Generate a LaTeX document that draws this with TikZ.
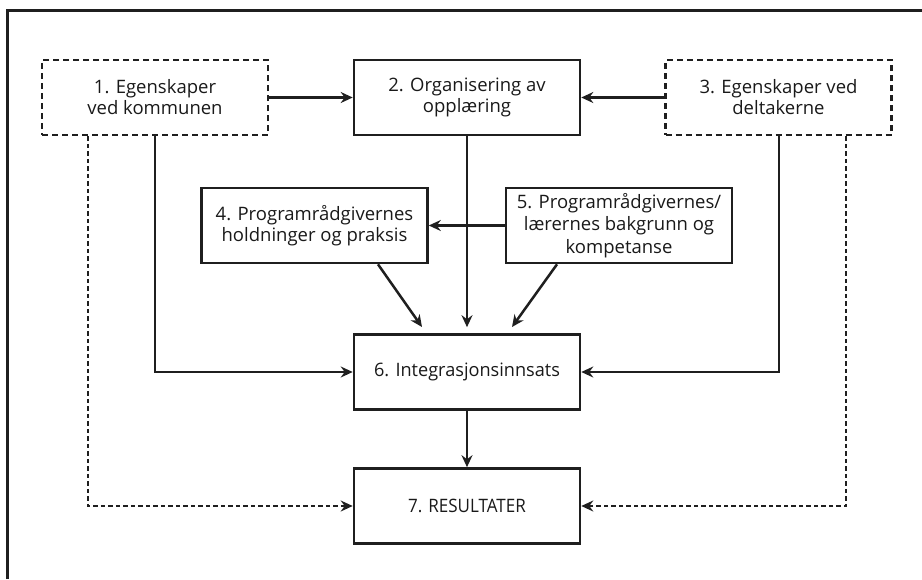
\documentclass[tikz,border=0pt]{standalone}
\usepackage{fontspec}
\setmainfont{Open Sans}
\usetikzlibrary{arrows.meta}
\newcommand{\condtext}[2]{\scalebox{#1}[1]{#2}}
\begin{document}
\begin{tikzpicture}[x=1pt,y=-1pt,
  box/.style={draw=black!88, line width=2.6pt, minimum width=226pt, minimum height=75pt,
    align=center, font=\fontsize{18.5}{21}\selectfont, inner sep=1pt, text=black!90},
  dbox/.style={box, dash pattern=on 6pt off 4pt},
  arr/.style={line width=2.5pt, draw=black!88, -{Stealth[length=12pt,width=11pt,inset=4pt]}},
  darr/.style={arr, dash pattern=on 4.5pt off 3pt}
]
\useasboundingbox (0,0) rectangle (922,579);
\draw[line width=3pt, draw=black!88] (7,579) -- (7,10) -- (922,10);

\node[dbox] (b1) at (155,97.5) {1. Egenskaper\\ved kommunen};
\node[box]  (b2) at (467,97.5) {2. Organisering av\\opplæring};
\node[dbox] (b3) at (778.5,97.5) {3. Egenskaper ved\\deltakerne};
\node[box]  (b4) at (314.5,225.5) {4. Programrådgivernes\\holdninger og praksis};
\node[box, font=\fontsize{18.5}{22.5}\selectfont]  (b5) at (619,225.5) {5. Programrådgivernes/\\lærernes bakgrunn og\\kompetanse};
\node[box]  (b6) at (467,372) {\condtext{0.98}{6. Integrasjonsinnsats}};
\node[box]  (b7) at (467,506) {\condtext{0.92}{7. RESULTATER}};

\coordinate (t4) at (422,327);
\coordinate (t5) at (512,327);

\draw[arr] (b1.east) -- (b2.west);
\draw[arr] (b3.west) -- (b2.east);
\draw[arr] (b5.west) -- (b4.east);
\draw[arr, shorten >=6pt] (b2.south) -- (b6.north);
\draw[arr] (b4.south -| 378,0) -- (t4);
\draw[arr] (b5.south -| 557,0) -- (t5);
\draw[arr] (b1.south -| 155,0) |- (b6.west);
\draw[arr] (b3.south -| 779,0) |- (b6.east);
\draw[darr] (b1.south -| 88,0) |- (b7.west);
\draw[darr] (b3.south -| 846,0) |- (b7.east);
\draw[arr] (b6.south) -- (b7.north);
\end{tikzpicture}
\end{document}
